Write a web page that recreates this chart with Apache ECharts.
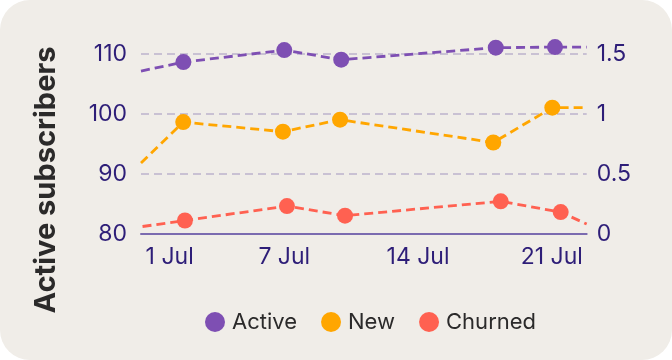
<!DOCTYPE html>
<html>
<head>
<meta charset="utf-8">
<script src="https://cdn.jsdelivr.net/npm/echarts@6/dist/echarts.min.js"></script>
<style>
  html, body { margin: 0; padding: 0; background: #ffffff; }
  #chart { width: 672px; height: 360px; background: #f0ede8; border-radius: 30px; overflow: hidden; }
</style>
</head>
<body>
<div id="chart"></div>
<script>
// X positions are day-of-July (fractional), first/last points sit on the plot edges
const xMin = -0.5;
const xMax = 22.83;
const xTickDays = [1, 7, 14, 21];

const activeDays = [-0.5, 1.72, 7.0, 9.98, 18.07, 21.17, 22.83];
const activeVals = [107.1, 108.6, 110.6, 109.0, 111.0, 111.1, 111.1];

const newDays = [-0.5, 1.71, 6.93, 9.92, 17.94, 21.03, 22.83];
const newVals = [0.59, 0.93, 0.85, 0.95, 0.76, 1.05, 1.05];

const churnDays = [-0.42, 1.80, 7.14, 10.18, 18.33, 21.47, 22.83];
const churnVals = [0.06, 0.11, 0.23, 0.15, 0.27, 0.18, 0.08];

const leftTicks = [80, 90, 100, 110];
const rightTicks = [0, 0.5, 1, 1.5];

const seriesNames = ['Active', 'New', 'Churned'];
const colors = ['#7e4fb3', '#ffa600', '#ff6151'];

function build(days, vals) {
  return days.map((d, i) => {
    const item = { value: [d, vals[i]] };
    if (i === 0 || i === days.length - 1) item.symbol = 'none';
    return item;
  });
}

const chart = echarts.init(document.getElementById('chart'), null, { renderer: 'canvas' });
const tickColor = '#2e1e78';
const font = 'Inter, "Noto Sans", sans-serif';

function lineSeries(name, color, yIdx, data) {
  return {
    name: name,
    type: 'line',
    yAxisIndex: yIdx,
    data: data,
    clip: false,
    symbol: 'circle',
    symbolSize: 16,
    showAllSymbol: true,
    itemStyle: { color: color },
    lineStyle: { color: color, width: 2.8, type: [9, 5] },
    emphasis: { disabled: true },
    animation: false
  };
}

chart.setOption({
  animation: false,
  backgroundColor: 'transparent',
  grid: { left: 141, right: 85.3, top: 53.7, bottom: 126.3 },
  legend: {
    data: seriesNames.map(n => ({ name: n, icon: 'circle' })),
    left: 200,
    top: 306,
    itemWidth: 20,
    itemHeight: 20,
    itemGap: 24,
    textStyle: { fontFamily: font, fontSize: 22, color: '#2b2a2a', padding: [0, 0, 0, 2] }
  },
  xAxis: {
    type: 'value',
    min: xMin,
    max: xMax,
    axisLine: { show: true, lineStyle: { color: '#7b6bb0', width: 2 } },
    axisTick: { show: false },
    splitLine: { show: false },
    axisLabel: {
      customValues: xTickDays,
      formatter: v => v + ' Jul',
      fontFamily: font,
      fontSize: 23,
      color: tickColor,
      margin: 12
    }
  },
  yAxis: [
    {
      type: 'value',
      min: 80,
      max: 110,
      interval: 10,
      axisLine: { show: false },
      axisTick: { show: false },
      axisLabel: {
        customValues: leftTicks,
        fontFamily: font, fontSize: 23, color: tickColor, margin: 14
      },
      splitLine: { show: true, lineStyle: { color: '#bcb2cb', width: 1.5, type: [8, 5] } }
    },
    {
      type: 'value',
      min: 0,
      max: 1.5,
      interval: 0.5,
      axisLine: { show: false },
      axisTick: { show: false },
      axisLabel: {
        customValues: rightTicks,
        fontFamily: font, fontSize: 23, color: tickColor, margin: 10
      },
      splitLine: { show: false }
    }
  ],
  graphic: [{
    type: 'text',
    x: 46,
    y: 180,
    rotation: Math.PI / 2,
    style: {
      text: 'Active subscribers',
      font: 'bold 29px Inter, "Noto Sans", sans-serif',
      fill: '#2b2a2a',
      align: 'center',
      verticalAlign: 'middle'
    }
  }],
  series: [
    lineSeries(seriesNames[0], colors[0], 0, build(activeDays, activeVals)),
    lineSeries(seriesNames[1], colors[1], 1, build(newDays, newVals)),
    lineSeries(seriesNames[2], colors[2], 1, build(churnDays, churnVals))
  ]
});
</script>
</body>
</html>
